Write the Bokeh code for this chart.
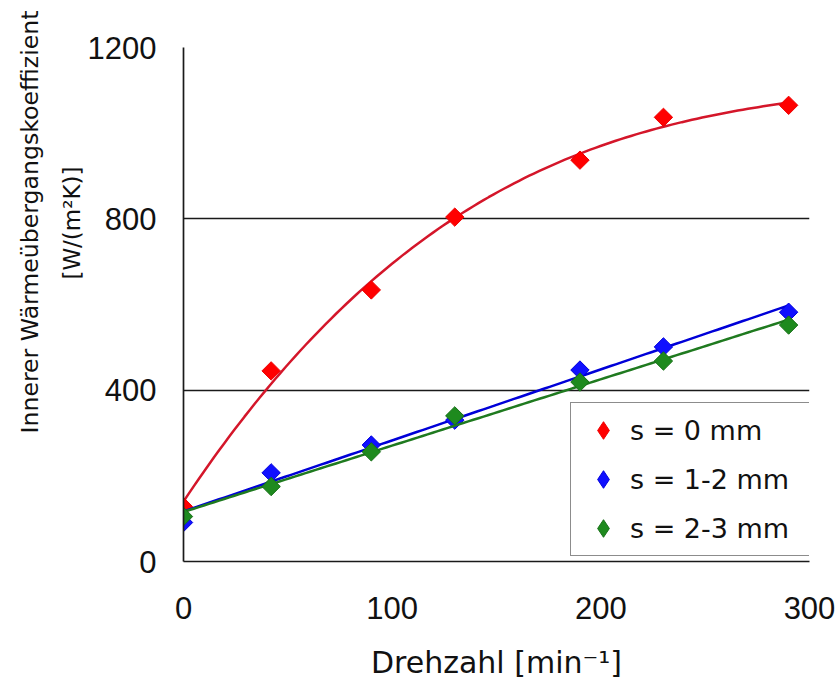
import numpy as np
from bokeh.plotting import figure
from bokeh.models import FixedTicker, Legend, LegendItem, Range1d, Title
from bokeh.embed import file_html
from bokeh.resources import INLINE

# ---- data ----
drehzahl = [0, 42, 90, 130, 190, 230, 290]          # Drehzahl [min^-1]
s0_mm = [128, 445, 634, 804, 937, 1037, 1065]        # s = 0 mm
s12_mm = [91, 207, 272, 330, 447, 501, 582]          # s = 1-2 mm
s23_mm = [105, 175, 256, 340, 419, 468, 552]         # s = 2-3 mm
series_labels = ["s = 0 mm", "s = 1-2 mm", "s = 2-3 mm"]
x_ticks = [0, 100, 200, 300]
y_ticks = [0, 400, 800, 1200]
x_title = "Drehzahl [min\u207b\u00b9]"
y_title_1 = "Innerer Wärmeübergangskoeffizient"
y_title_2 = "[W/(m²K)]"

# trendlines (as in the original spreadsheet chart): fitted to the data above
x_fit = np.linspace(min(drehzahl), max(drehzahl), 120)
fit_s0 = np.polyval(np.polyfit(drehzahl, s0_mm, 3), x_fit)
fit_s12 = np.polyval(np.polyfit(drehzahl, s12_mm, 1), x_fit)
fit_s23 = np.polyval(np.polyfit(drehzahl, s23_mm, 1), x_fit)

p = figure(width=839, height=682, x_range=Range1d(0, 300), y_range=Range1d(0, 1200),
           output_backend="svg", toolbar_location=None,
           min_border_left=183, min_border_right=30, min_border_top=47, min_border_bottom=120)
p.outline_line_color = None
p.background_fill_color = "white"
p.border_fill_color = "white"

# grid
p.xgrid.grid_line_color = None
p.ygrid.ticker = FixedTicker(ticks=[400, 800, 1200])
p.ygrid.grid_line_color = "#1a1a1a"
p.ygrid.grid_line_width = 1.7

# axes
for ax in (p.xaxis[0], p.yaxis[0]):
    ax.axis_line_color = "#1a1a1a"
    ax.axis_line_width = 1.7
    ax.major_tick_line_color = None
    ax.minor_tick_line_color = None
    ax.major_tick_out = 0
    ax.major_tick_in = 0
    ax.major_label_text_font = "Liberation Sans"
    ax.major_label_text_font_size = "31px"
    ax.major_label_text_color = "#111111"
p.xaxis.ticker = FixedTicker(ticks=x_ticks)
p.yaxis.ticker = FixedTicker(ticks=y_ticks)
p.xaxis.major_label_standoff = 35
p.yaxis.major_label_standoff = 27
p.xaxis.axis_label = x_title
p.xaxis.axis_label_text_font = "DejaVu Sans"
p.xaxis.axis_label_text_font_size = "30px"
p.xaxis.axis_label_text_font_style = "normal"
p.xaxis.axis_label_text_color = "#111111"
p.xaxis.axis_label_standoff = 23

# y title: two rotated lines placed in the left border
t2 = Title(text=y_title_2, align="right", offset=119, standoff=0,
           text_font="DejaVu Sans", text_font_size="23px", text_font_style="normal",
           text_color="#111111")
t1 = Title(text=y_title_1, align="right", offset=-37, standoff=25,
           text_font="DejaVu Sans", text_font_size="23.6px", text_font_style="normal",
           text_color="#111111")
p.add_layout(t2, "left")
p.add_layout(t1, "left")

# series
r_l0 = p.line(x_fit, fit_s0, line_color="#d4162a", line_width=2.5)
r_p0 = p.scatter(drehzahl, s0_mm, marker="square", angle=np.pi / 4, size=13,
                 fill_color="#ff0000", line_color="#ee0000")
r_l1 = p.line(x_fit, fit_s12, line_color="#0000d8", line_width=2.5)
r_p1 = p.scatter(drehzahl, s12_mm, marker="square", angle=np.pi / 4, size=13,
                 fill_color="#1010ff", line_color="#0000dd")
r_l2 = p.line(x_fit, fit_s23, line_color="#1f7a1f", line_width=2.5)
r_p2 = p.scatter(drehzahl, s23_mm, marker="square", angle=np.pi / 4, size=13,
                 fill_color="#1e8a1e", line_color="#177017")

# legend-only diamond renderers (hidden in the plot, shown in the legend)
leg_colors = [("#ff0000", "#ee0000"), ("#1010ff", "#0000dd"), ("#1e8a1e", "#177017")]
leg_series = [s0_mm, s12_mm, s23_mm]
leg_renderers = []
for (fc, lc), ys in zip(leg_colors, leg_series):
    r = p.scatter(drehzahl, ys, marker="diamond", size=18, fill_color=fc, line_color=lc)
    r.visible = False
    leg_renderers.append(r)

legend = Legend(items=[LegendItem(label=lab, renderers=[r])
                       for lab, r in zip(series_labels, leg_renderers)],
                location=(387, 5), margin=0, padding=5, spacing=5,
                glyph_width=54, glyph_height=44, label_height=44, label_width=177,
                label_standoff=0, click_policy="none",
                label_text_font="DejaVu Sans", label_text_font_size="27px",
                label_text_color="#111111",
                border_line_color="#1a1a1a", border_line_width=1.7,
                background_fill_color="white", background_fill_alpha=1.0)
p.add_layout(legend, "center")

open("out.html", "w").write(file_html(p, INLINE))
